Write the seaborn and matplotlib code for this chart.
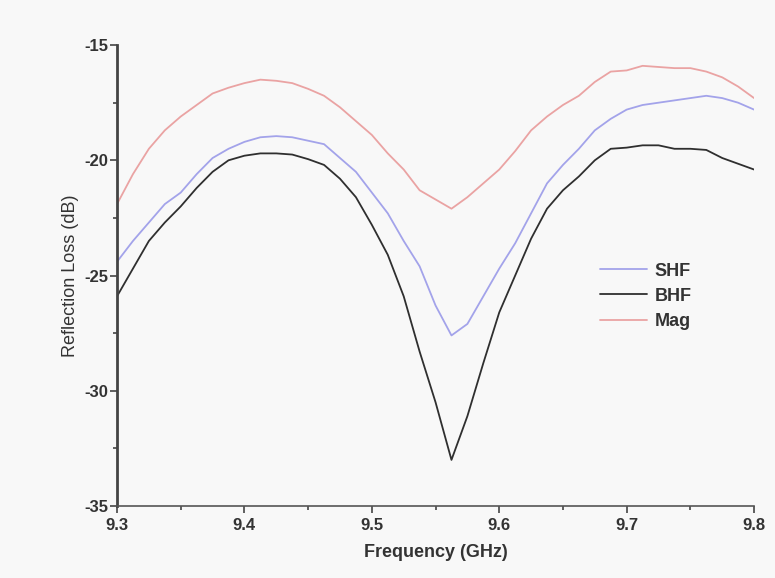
import numpy as np
import pandas as pd
import seaborn as sns
import matplotlib.pyplot as plt
from matplotlib.ticker import MultipleLocator

# frequency grid (GHz)
freq = [9.3, 9.3125, 9.325, 9.3375, 9.35, 9.3625, 9.375, 9.3875, 9.4, 9.4125,
        9.425, 9.4375, 9.45, 9.4625, 9.475, 9.4875, 9.5, 9.5125, 9.525, 9.5375,
        9.55, 9.5625, 9.575, 9.5875, 9.6, 9.6125, 9.625, 9.6375, 9.65, 9.6625,
        9.675, 9.6875, 9.7, 9.7125, 9.725, 9.7375, 9.75, 9.7625, 9.775, 9.7875, 9.8]

# reflection loss (dB)
shf = [-24.4, -23.5, -22.7, -21.9, -21.4, -20.6, -19.9, -19.5, -19.2, -19.0,
       -18.95, -19.0, -19.15, -19.3, -19.9, -20.5, -21.4, -22.3, -23.5, -24.6,
       -26.3, -27.6, -27.1, -25.9, -24.7, -23.6, -22.3, -21.0, -20.2, -19.5,
       -18.7, -18.2, -17.8, -17.6, -17.5, -17.4, -17.3, -17.2, -17.3, -17.5, -17.8]
bhf = [-25.9, -24.7, -23.5, -22.7, -22.0, -21.2, -20.5, -20.0, -19.8, -19.7,
       -19.7, -19.75, -19.95, -20.2, -20.8, -21.6, -22.8, -24.1, -25.9, -28.3,
       -30.5, -33.0, -31.1, -28.8, -26.6, -25.0, -23.4, -22.1, -21.3, -20.7,
       -20.0, -19.5, -19.45, -19.35, -19.35, -19.5, -19.5, -19.55, -19.9, -20.15, -20.4]
mag = [-21.9, -20.6, -19.5, -18.7, -18.1, -17.6, -17.1, -16.85, -16.65, -16.5,
       -16.55, -16.65, -16.9, -17.2, -17.7, -18.3, -18.9, -19.7, -20.4, -21.3,
       -21.7, -22.1, -21.6, -21.0, -20.4, -19.6, -18.7, -18.1, -17.6, -17.2,
       -16.6, -16.15, -16.1, -15.9, -15.95, -16.0, -16.0, -16.15, -16.4, -16.8, -17.3]

series_names = ["SHF", "BHF", "Mag"]
colors = {"SHF": "#a3a3ea", "BHF": "#2f2f2f", "Mag": "#eaa3a3"}

df = pd.DataFrame({
    "freq": freq * 3,
    "rl": shf + bhf + mag,
    "sample": np.repeat(series_names, len(freq)),
})

sns.set_style("white")
plt.rcParams["font.family"] = ["Liberation Sans", "DejaVu Sans"]
plt.rcParams["axes.unicode_minus"] = False

fig = plt.figure(figsize=(7.75, 5.78), dpi=100, facecolor="#f8f8f8")
ax = fig.add_axes([0.151, 0.1246, 0.822, 0.7974])
ax.set_facecolor("#f8f8f8")

sns.lineplot(data=df, x="freq", y="rl", hue="sample", hue_order=series_names,
             palette=colors, linewidth=1.3, ax=ax, sort=False)

ax.set_xlim(9.3, 9.8)
ax.set_ylim(-35, -15)
ax.xaxis.set_major_locator(MultipleLocator(0.1))
ax.xaxis.set_minor_locator(MultipleLocator(0.05))
ax.yaxis.set_major_locator(MultipleLocator(5))
ax.yaxis.set_minor_locator(MultipleLocator(2.5))
ax.set_xticklabels([f"{v:.1f}" for v in ax.get_xticks()])

for s in ["top", "right"]:
    ax.spines[s].set_visible(False)
ax.spines["left"].set_linewidth(2.0)
ax.spines["bottom"].set_linewidth(1.2)
ax.spines["left"].set_color("#444444")
ax.spines["bottom"].set_color("#555555")

ax.tick_params(which="both", bottom=True, left=True, top=False, right=False)
ax.tick_params(which="major", direction="out", length=5, width=1.2,
               color="#444444", labelsize=12, labelcolor="#333333")
ax.tick_params(which="minor", direction="out", length=3, width=1.2, color="#444444")
ax.tick_params(axis="y", pad=1)
for lab in ax.get_xticklabels() + ax.get_yticklabels():
    lab.set_fontweight("bold")

ax.set_xlabel("Frequency (GHz)", fontsize=13, fontweight="bold", color="#333333", labelpad=8)
ax.set_ylabel("Reflection Loss (dB)", fontsize=13, color="#333333", labelpad=4)

leg = ax.legend(loc="center", bbox_to_anchor=(0.83, 0.455), frameon=False,
                handlelength=2.6, handletextpad=0.4, labelspacing=0.45,
                prop={"size": 13, "weight": "bold"})
for t in leg.get_texts():
    t.set_color("#333333")

fig.savefig("out.png", dpi=100, facecolor=fig.get_facecolor())
